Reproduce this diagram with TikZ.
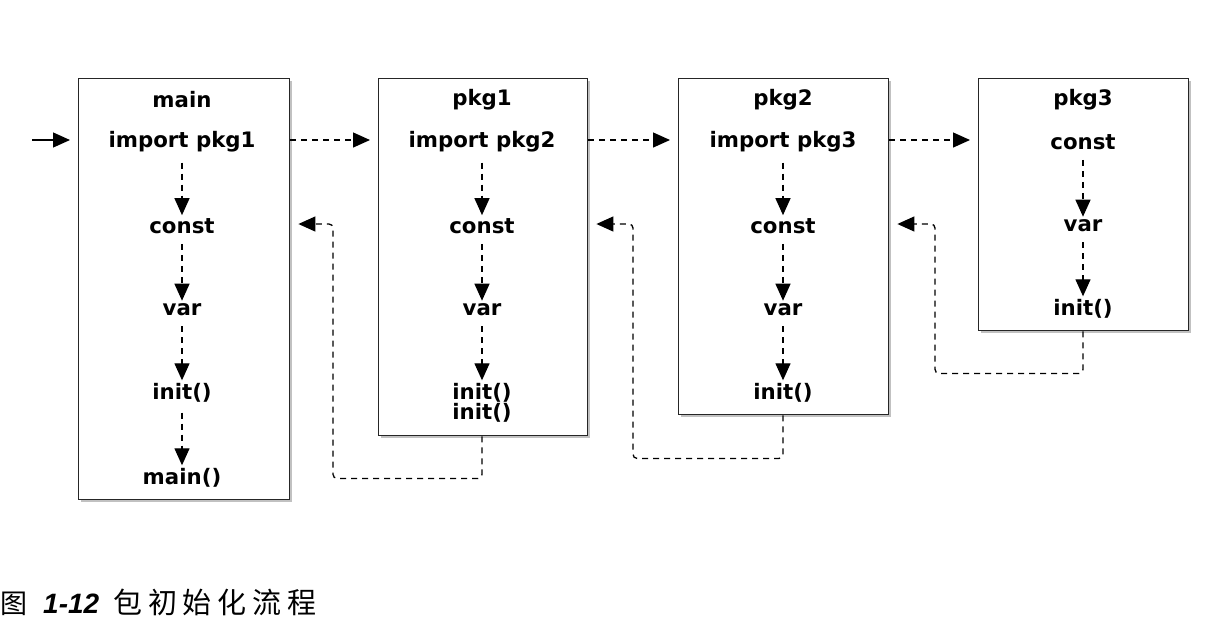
\documentclass[tikz,border=0pt]{standalone}
\usepackage{fontspec}
\setsansfont{DejaVu Sans}
\newfontfamily\cjk[LetterSpace=20]{Noto Sans CJK SC}
\newfontfamily\capnum{Liberation Sans}
\usetikzlibrary{arrows.meta,shadows}

\begin{document}
\begin{tikzpicture}[x=1pt,y=-1pt,
  pkgbox/.style={draw=black!85, line width=1.4pt, fill=white, anchor=north west,
    drop shadow={shadow xshift=2.5pt, shadow yshift=-2.5pt, opacity=0.35, fill=black!70}},
  lblfont/.style={font=\sffamily\bfseries\fontsize{21.3}{22}\selectfont},
  lbl/.style={lblfont, inner sep=2pt, text=black},
  tipshape/.style={-{Triangle[length=17pt,width=15pt]}},
  flow/.style={tipshape, dash pattern=on 6pt off 5pt, line width=1.3pt, black},
  down/.style={flow, shorten <=8pt, shorten >=1pt},
  ret/.style={flow, rounded corners=4pt, shorten >=8pt},
]
\useasboundingbox (0,0) rectangle (1208,630);

% package boxes
\node[pkgbox, minimum width=211pt, minimum height=421pt] (bmain) at (78,78) {};
\node[pkgbox, minimum width=209pt, minimum height=357pt] (bp1) at (378,78) {};
\node[pkgbox, minimum width=210pt, minimum height=336pt] (bp2) at (678,78) {};
\node[pkgbox, minimum width=210pt, minimum height=252pt] (bp3) at (978,78) {};

% main
\node[lbl] (mt) at (182,100) {main};
\node[lbl] (m1) at (182,142) {import pkg1};
\node[lbl] (m2) at (182,226) {const};
\node[lbl] (m3) at (182,310) {var};
\node[lbl] (m4) at (182,393) {init()};
\node[lbl] (m5) at (182,478) {main()};

% pkg1
\node[lbl] (at) at (482,100) {pkg1};
\node[lbl] (a1) at (482,142) {import pkg2};
\node[lbl] (a2) at (482,226) {const};
\node[lbl] (a3) at (482,310) {var};
\node[lbl, align=center, font=\sffamily\bfseries\fontsize{21.3}{20}\selectfont] (a4) at (482,403) {init()\\init()};

% pkg2
\node[lbl] (bt) at (783,100) {pkg2};
\node[lbl] (b1) at (783,142) {import pkg3};
\node[lbl] (b2) at (783,226) {const};
\node[lbl] (b3) at (783,310) {var};
\node[lbl] (b4) at (783,393) {init()};

% pkg3
\node[lbl] (ct) at (1083,100) {pkg3};
\node[lbl] (c1) at (1083,142) {const};
\node[lbl] (c2) at (1083,226) {var};
\node[lbl] (c3) at (1083,309) {init()};

% entry point
\coordinate (start) at (32,140);
\draw[tipshape, line width=1.3pt, black, shorten >=8pt] (start) -- (bmain.west |- start);

% order inside each package
\foreach \p/\q in {m1/m2, m2/m3, m3/m4, m4/m5, a1/a2, a2/a3, a3/a4, b1/b2, b2/b3, b3/b4, c1/c2, c2/c3}
  \draw[down] (\p.south) -- (\q.north);

% imports
\draw[flow, shorten >=8pt] (bmain.east |- start) -- (bp1.west |- start);
\draw[flow, shorten >=8pt] (bp1.east |- start) -- (bp2.west |- start);
\draw[flow, shorten >=8pt] (bp2.east |- start) -- (bp3.west |- start);

% returns after initialisation
\coordinate (back) at (0,224);
\draw[ret] (bp1.south -| a4) -- ++(0,42) -- ++(-149,0) |- (bmain.east |- back);
\draw[ret] (bp2.south -| b4) -- ++(0,43) -- ++(-150,0) |- (bp1.east |- back);
\draw[ret] (bp3.south -| c3) -- ++(0,42) -- ++(-148,0) |- (bp2.east |- back);

% caption
\node[anchor=west, inner sep=0pt] (cap) at (0,602)
  {\cjk\fontsize{27}{30}\selectfont 图\hspace{16pt}{\capnum\bfseries\itshape\fontsize{28}{30}\selectfont 1-12}\hspace{14pt}\fontsize{29}{30}\selectfont 包初始化流程};
\end{tikzpicture}
\end{document}
